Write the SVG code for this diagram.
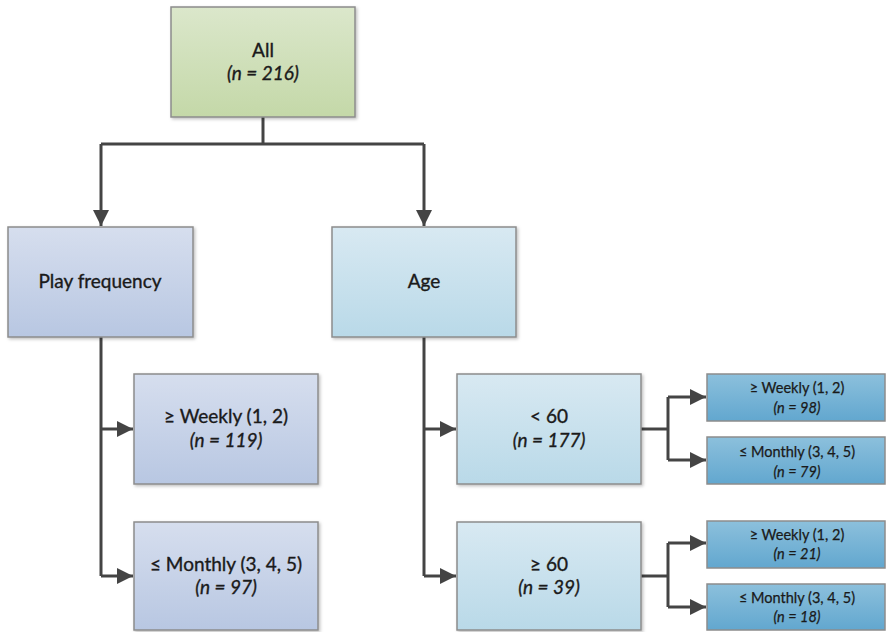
<svg xmlns="http://www.w3.org/2000/svg" width="886" height="632" viewBox="0 0 886 632">
<style>
.box{stroke:#8c8c8c;stroke-width:1.5}
.t{font-family:Lato,"Open Sans","Liberation Sans",sans-serif;fill:#1a1a1a;stroke:#1a1a1a;stroke-width:0.35;text-anchor:middle;font-size:19px}
.i{font-style:italic}
.s{font-size:14.5px;stroke-width:0.25}
.c{fill:none;stroke:#444;stroke-width:3}
</style>
<defs>
<linearGradient id="gG" x1="0" y1="0" x2="0" y2="1"><stop offset="0" stop-color="#dbe7cb"/><stop offset="1" stop-color="#c4d8a8"/></linearGradient>
<linearGradient id="gP" x1="0" y1="0" x2="0" y2="1"><stop offset="0" stop-color="#d6deee"/><stop offset="1" stop-color="#b8c7e2"/></linearGradient>
<linearGradient id="gA" x1="0" y1="0" x2="0" y2="1"><stop offset="0" stop-color="#d8e9f2"/><stop offset="1" stop-color="#b9d9e8"/></linearGradient>
<linearGradient id="gS" x1="0" y1="0" x2="0" y2="1"><stop offset="0" stop-color="#8cc0dc"/><stop offset="1" stop-color="#62a7cf"/></linearGradient>
<filter id="sh" x="-5%" y="-5%" width="115%" height="115%"><feDropShadow dx="1.5" dy="1.5" stdDeviation="1.5" flood-color="#000" flood-opacity="0.25"/></filter>
<marker id="ar" markerWidth="16" markerHeight="16" viewBox="0 0 16 16" refX="16" refY="8" orient="auto" markerUnits="userSpaceOnUse"><path d="M0,0 L16,8 L0,16 Z" fill="#444"/></marker>
</defs>

<g id="connectors">
<path class="c" d="M263,117 V144"/>
<path class="c" d="M101,144 H424"/>
<path class="c" d="M101,144 V226" marker-end="url(#ar)"/>
<path class="c" d="M424,144 V226" marker-end="url(#ar)"/>
<path class="c" d="M101,337 V576"/>
<path class="c" d="M101,429 H133" marker-end="url(#ar)"/>
<path class="c" d="M101,576 H133" marker-end="url(#ar)"/>
<path class="c" d="M424,337 V576"/>
<path class="c" d="M424,429 H456" marker-end="url(#ar)"/>
<path class="c" d="M424,576 H456" marker-end="url(#ar)"/>
<path class="c" d="M641,429 H668"/>
<path class="c" d="M668,397 V460"/>
<path class="c" d="M668,397 H706" marker-end="url(#ar)"/>
<path class="c" d="M668,460 H706" marker-end="url(#ar)"/>
<path class="c" d="M641,576 H668"/>
<path class="c" d="M668,543 V607"/>
<path class="c" d="M668,543 H706" marker-end="url(#ar)"/>
<path class="c" d="M668,607 H706" marker-end="url(#ar)"/>
</g>

<g id="all">
<rect class="box" x="171" y="7" width="184" height="110" fill="url(#gG)" filter="url(#sh)"/>
<text class="t" x="263" y="57">All</text>
<text class="t i" x="263" y="80">(n = 216)</text>
</g>

<g id="play">
<rect class="box" x="8" y="227" width="185" height="110" fill="url(#gP)" filter="url(#sh)"/>
<text class="t" x="100" y="288">Play frequency</text>
</g>

<g id="age">
<rect class="box" x="332" y="227" width="184" height="110" fill="url(#gA)" filter="url(#sh)"/>
<text class="t" x="424" y="288">Age</text>
</g>

<g id="pweekly">
<rect class="box" x="134" y="374" width="184" height="110" fill="url(#gP)" filter="url(#sh)"/>
<text class="t" x="226" y="423">≥ Weekly (1, 2)</text>
<text class="t i" x="226" y="447">(n = 119)</text>
</g>

<g id="pmonthly">
<rect class="box" x="134" y="522" width="184" height="108" fill="url(#gP)" filter="url(#sh)"/>
<text class="t" x="226" y="571">≤  Monthly (3, 4, 5)</text>
<text class="t i" x="226" y="594">(n = 97)</text>
</g>

<g id="under60">
<rect class="box" x="457" y="374" width="184" height="110" fill="url(#gA)" filter="url(#sh)"/>
<text class="t" x="549" y="423">&lt; 60</text>
<text class="t i" x="549" y="447">(n = 177)</text>
</g>

<g id="over60">
<rect class="box" x="457" y="522" width="184" height="108" fill="url(#gA)" filter="url(#sh)"/>
<text class="t" x="549" y="571">≥ 60</text>
<text class="t i" x="549" y="594">(n = 39)</text>
</g>

<g id="u60weekly">
<rect class="box" x="707" y="374" width="178" height="47" fill="url(#gS)"/>
<text class="t s" x="797" y="393">≥ Weekly (1, 2)</text>
<text class="t s i" x="797" y="413">(n = 98)</text>
</g>

<g id="u60monthly">
<rect class="box" x="707" y="437" width="178" height="47" fill="url(#gS)"/>
<text class="t s" x="797" y="457">≤  Monthly (3, 4, 5)</text>
<text class="t s i" x="797" y="477">(n = 79)</text>
</g>

<g id="o60weekly">
<rect class="box" x="707" y="521" width="178" height="47" fill="url(#gS)"/>
<text class="t s" x="797" y="540">≥ Weekly (1, 2)</text>
<text class="t s i" x="797" y="559">(n = 21)</text>
</g>

<g id="o60monthly">
<rect class="box" x="707" y="584" width="178" height="46" fill="url(#gS)"/>
<text class="t s" x="797" y="603">≤  Monthly (3, 4, 5)</text>
<text class="t s i" x="797" y="622">(n = 18)</text>
</g>
</svg>
